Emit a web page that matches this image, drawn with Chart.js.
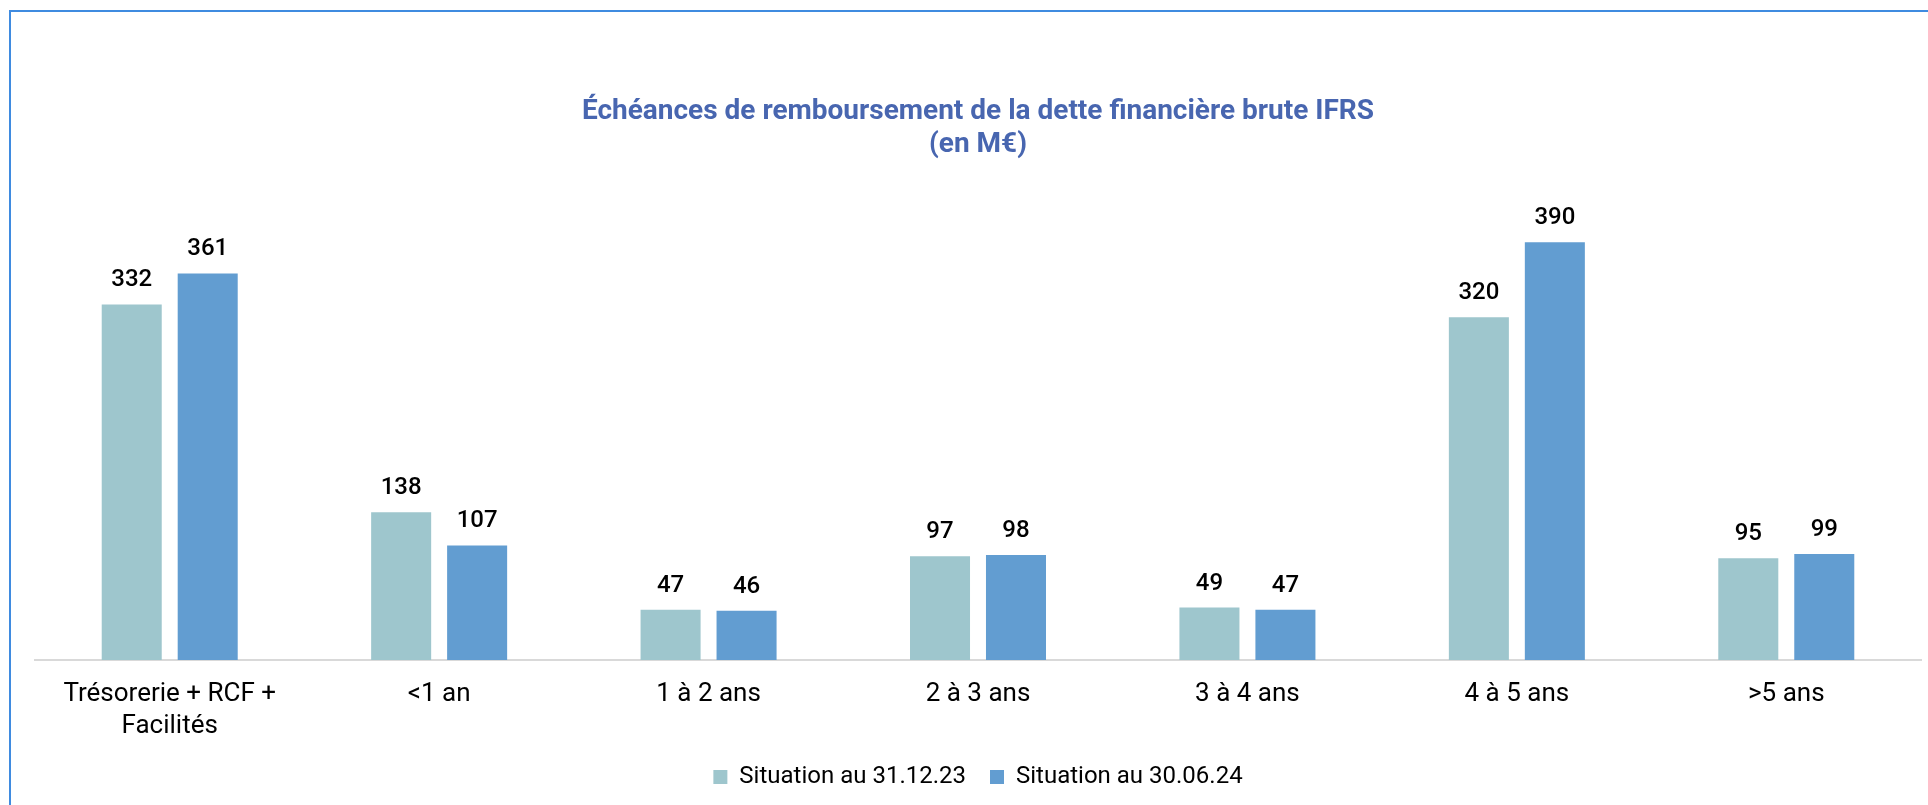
<!DOCTYPE html>
<html>
<head>
<meta charset="utf-8">
<script src="https://cdn.jsdelivr.net/npm/chart.js@4/dist/chart.umd.min.js"></script>
<style>
  html, body { margin: 0; padding: 0; background: #ffffff; overflow: hidden; width: 1928px; height: 805px; }
  #frame { position: absolute; left: 9px; top: 10px; width: 3000px; height: 3000px;
           border-top: 2px solid #3f8be0; border-left: 2px solid #3f8be0; }
  #wrap { position: absolute; left: 0; top: 0; width: 1958px; height: 805px; }
</style>
</head>
<body>
<div id="frame"></div>
<div id="wrap"><canvas id="c" width="1958" height="805"></canvas></div>
<script>
const categories = [["Trésorerie + RCF +", "Facilités"], "<1 an", "1 à 2 ans", "2 à 3 ans", "3 à 4 ans", "4 à 5 ans", ">5 ans"];
const seriesNames = ["Situation au 31.12.23", "Situation au 30.06.24"];
const situation31_12_23 = [332, 138, 47, 97, 49, 320, 95];
const situation30_06_24 = [361, 107, 46, 98, 47, 390, 99];
const titleLines = ["Échéances de remboursement de la dette financière brute IFRS", "(en M€)"];

const FONT = "Roboto, 'DejaVu Sans', sans-serif";

const valueLabels = {
  id: 'valueLabels',
  afterDatasetsDraw(chart) {
    const ctx = chart.ctx;
    ctx.save();
    ctx.font = "500 24px " + FONT;
    ctx.fillStyle = "#000000";
    ctx.textAlign = "center";
    ctx.textBaseline = "middle";
    chart.data.datasets.forEach((ds, i) => {
      const meta = chart.getDatasetMeta(i);
      meta.data.forEach((el, j) => {
        ctx.fillText(String(ds.data[j]), el.x, el.y - 24);
      });
    });
    ctx.restore();
  }
};

new Chart(document.getElementById('c'), {
  type: 'bar',
  data: {
    labels: categories,
    datasets: [
      { label: seriesNames[0], data: situation31_12_23, backgroundColor: '#9ec6cd',
        categoryPercentage: 0.564, barPercentage: 0.79 },
      { label: seriesNames[1], data: situation30_06_24, backgroundColor: '#629dd1',
        categoryPercentage: 0.564, barPercentage: 0.79 }
    ]
  },
  options: {
    responsive: false,
    animation: false,
    devicePixelRatio: 1,
    layout: { padding: { left: 35, right: 37, top: 0, bottom: 6 } },
    plugins: {
      title: {
        display: true,
        text: titleLines,
        color: '#4866b0',
        font: { family: FONT, size: 28, weight: 'bold', lineHeight: 1.18 },
        padding: { top: 95, bottom: 17 }
      },
      legend: {
        position: 'bottom',
        labels: {
          boxWidth: 14, boxHeight: 14, padding: 24, color: '#000000',
          font: { family: FONT, size: 24 }
        }
      },
      tooltip: { enabled: false }
    },
    scales: {
      x: {
        grid: { display: false, drawTicks: false },
        border: { display: true, color: '#d9d9d9', width: 2 },
        ticks: { color: '#000000', padding: 18, autoSkip: false, maxRotation: 0,
                 font: { family: FONT, size: 26, lineHeight: 1.23 } },
        afterFit: (s) => { s.height = s.height - 19; }
      },
      y: {
        display: false,
        min: 0,
        max: 450
      }
    }
  },
  plugins: [valueLabels]
});
</script>
</body>
</html>
